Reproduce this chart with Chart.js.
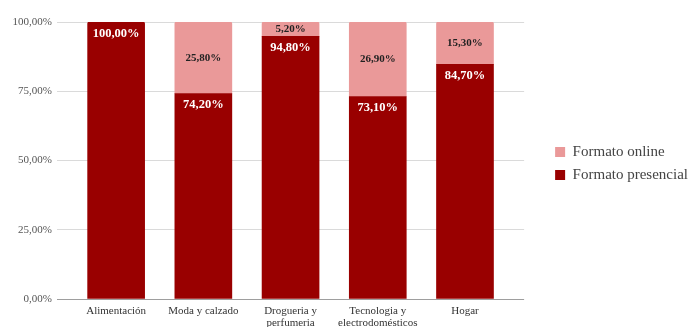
<!DOCTYPE html>
<html>
<head>
<meta charset="utf-8">
<script src="https://cdn.jsdelivr.net/npm/chart.js@4"></script>
<style>
  body { margin: 0; background: #fff; }
  #wrap { width: 688px; height: 327px; }
</style>
</head>
<body>
<div id="wrap"><canvas id="formatos" width="688" height="327"></canvas></div>
<script>
const categories = [
  "Alimentación",
  "Moda y calzado",
  ["Drogueria y", "perfumeria"],
  ["Tecnologia y", "electrodomésticos"],
  "Hogar",
];
const presencial = [100.0, 74.2, 94.8, 73.1, 84.7];
const online = [0.0, 25.8, 5.2, 26.9, 15.3];
const y_ticks = [0, 25, 50, 75, 100];

const SERIF = "'Liberation Serif', 'Times New Roman', serif";
const DARK = "#990000";
const PINK = "#ea9999";

const pct = (v) => v.toFixed(2).replace(".", ",") + "%";
const points = (arr) => arr.map((v, i) => ({ x: i, y: v }));

// value labels inside each segment
const bar_labels = {
  id: "bar_labels",
  afterDatasetsDraw(chart) {
    const ctx = chart.ctx;
    ctx.save();
    ctx.textAlign = "center";
    ctx.textBaseline = "middle";
    chart.data.datasets.forEach((ds, d) => {
      chart.getDatasetMeta(d).data.forEach((bar, i) => {
        const v = ds.data[i].y;
        if (!v) return;
        if (d === 0) {
          ctx.font = "bold 12.5px " + SERIF;
          ctx.fillStyle = "#ffffff";
          ctx.fillText(pct(v), bar.x, bar.y + 11.5);
        } else {
          ctx.font = "bold 11px " + SERIF;
          ctx.fillStyle = "#222222";
          ctx.fillText(pct(v), bar.x, (bar.y + bar.base) / 2);
        }
      });
    });
    ctx.restore();
  },
};

const top_round = (ctx) =>
  online[ctx.dataIndex] === 0 ? { topLeft: 2, topRight: 2 } : 0;

// blank axis used only as spacing
const spacer = (position, size) => ({
  type: "linear",
  position,
  display: true,
  grid: { display: false },
  border: { display: false },
  ticks: { display: false },
  afterFit: (s) => {
    if (s.isHorizontal()) s.height = size;
    else s.width = size;
  },
});

new Chart(document.getElementById("formatos"), {
  type: "bar",
  data: {
    datasets: [
      {
        label: "Formato presencial",
        data: points(presencial),
        backgroundColor: DARK,
        borderWidth: 0,
        borderRadius: top_round,
        borderSkipped: false,
        barThickness: 57,
      },
      {
        label: "Formato online",
        data: points(online),
        backgroundColor: PINK,
        borderWidth: 0,
        borderRadius: { topLeft: 2, topRight: 2 },
        borderSkipped: false,
        barThickness: 57,
      },
    ],
  },
  options: {
    responsive: false,
    animation: false,
    layout: { padding: { top: 0, left: 0, right: -10, bottom: 0 } },
    scales: {
      x: {
        type: "linear",
        stacked: true,
        offset: false,
        min: -0.678,
        max: 4.678,
        afterBuildTicks: (s) => {
          s.ticks = categories.map((_, i) => ({ value: i }));
        },
        afterFit: (s) => { s.height = 28; },
        grid: { display: false, drawTicks: false },
        border: { display: false },
        ticks: {
          autoSkip: false,
          maxRotation: 0,
          padding: 6,
          color: "#333333",
          font: { family: SERIF, size: 11, lineHeight: 1.1 },
          callback: (v) => categories[v],
        },
      },
      y: {
        stacked: true,
        min: 0,
        max: 100,
        afterBuildTicks: (s) => {
          s.ticks = y_ticks.map((v) => ({ value: v }));
        },
        afterFit: (s) => { s.width = 57; },
        grid: {
          drawTicks: false,
          color: (c) => (c.tick.value === 0 ? "#9e9e9e" : "#dadada"),
        },
        border: { display: false },
        ticks: {
          padding: 5,
          color: "#555555",
          font: { family: SERIF, size: 11 },
          callback: (v) => pct(v),
        },
      },
      gap_top: spacer("top", 22),
      gap_right: spacer("right", 23),
    },
    plugins: {
      tooltip: { enabled: false },
      legend: {
        position: "right",
        reverse: true,
        maxWidth: 220,
        labels: {
          boxWidth: 10,
          boxHeight: 10,
          padding: 8,
          color: "#444444",
          font: { family: SERIF, size: 15 },
        },
      },
    },
  },
  plugins: [bar_labels],
});
</script>
</body>
</html>
